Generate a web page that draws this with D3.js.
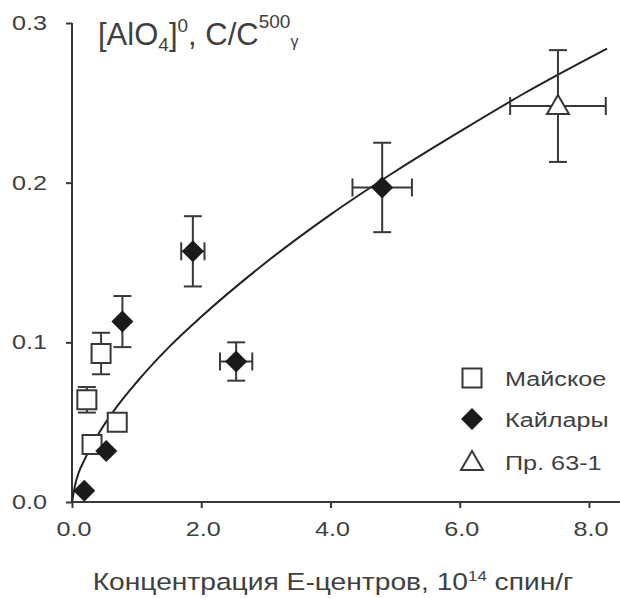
<!DOCTYPE html>
<html>
<head>
<meta charset="utf-8">
<script src="https://cdn.jsdelivr.net/npm/d3@7"></script>
<style>
  body { margin: 0; background: #fff; }
  text { font-family: "Liberation Sans", Arial, sans-serif; fill: #404040; }
</style>
</head>
<body>
<div id="chart"></div>
<script>
"use strict";
// Майское (open squares)
const maiskX = [0.45, 0.23, 0.31, 0.70];
const maiskY = [0.093, 0.064, 0.036, 0.050];
const maiskErrY = [0.013, 0.008, 0, 0];

// Кайлары (filled diamonds)
const kaylX = [0.19, 0.53, 0.78, 1.87, 2.54, 4.80];
const kaylY = [0.007, 0.032, 0.113, 0.157, 0.088, 0.197];
const kaylErrY = [0, 0, 0.016, 0.022, 0.012, 0.028];
const kaylErrX = [0, 0, 0, 0.18, 0.25, 0.46];

// Пр. 63-1 (open triangle)
const prX = [7.52];
const prY = [0.248];
const prErrY = [0.035];
const prErrX = [0.74];

// fitted curve
const curveX = [0, 0.05, 0.1, 0.2, 0.4, 0.7, 1.0, 1.5, 2, 3, 4, 5, 6, 7, 8.28];
const curveY = [0, 0.011, 0.018, 0.027, 0.042, 0.060, 0.075, 0.097, 0.116, 0.150, 0.180, 0.207, 0.232, 0.256, 0.284];

const xTicks = [0, 2, 4, 6, 8];
const yTicks = [0, 0.1, 0.2, 0.3];
const legendNames = ["Майское", "Кайлары", "Пр. 63-1"];

const width = 620, height = 598;
const ink = "#383838";
const stretch = 1.2;
const capW = 18;

const svg = d3.select("#chart").append("svg")
    .attr("width", width)
    .attr("height", height);

const x = d3.scaleLinear().domain([0, 8.48]).range([72, 620]);
const y = d3.scaleLinear().domain([0, 0.3]).range([502, 23]);

function sText(g, px, py, anchor, size, sx) {
    return g.append("text")
        .attr("transform", `translate(${px},${py}) scale(${sx || stretch},1)`)
        .attr("text-anchor", anchor)
        .style("font-size", size + "px");
}

// axes
const xAxis = svg.append("g")
    .attr("transform", `translate(0,${y(0)})`)
    .call(d3.axisBottom(x).tickValues(xTicks).tickSize(6).tickFormat(""));
const yAxis = svg.append("g")
    .attr("transform", `translate(${x(0)},0)`)
    .call(d3.axisLeft(y).tickValues(yTicks).tickSize(6).tickFormat(""));
[xAxis, yAxis].forEach(a => {
    a.selectAll("path").attr("stroke", ink).attr("stroke-width", 2);
    a.selectAll("line").attr("stroke", ink).attr("stroke-width", 2);
});
yAxis.select(".domain").attr("d", `M0,${y(0.3)}V${y(0) + 1}`);
xAxis.select(".domain").attr("d", `M${x(0) - 1},0H${width}`);

xTicks.forEach(t => sText(svg, x(t) + 2, 536, "middle", 21).text(d3.format(".1f")(t)));
yTicks.forEach(t => sText(svg, 47, y(t) + 7, "end", 21).text(d3.format(".1f")(t)));

// axis title
const xt = sText(svg, 333, 590, "middle", 23.5);
xt.append("tspan").text("Концентрация Е-центров, 10");
xt.append("tspan").attr("dy", -9).style("font-size", "14px").text("14");
xt.append("tspan").attr("dy", 9).text(" спин/г");

// panel label
const pl = sText(svg, 98, 45, "start", 31, 1);
pl.append("tspan").text("[AlO");
pl.append("tspan").attr("dy", 6).style("font-size", "19px").text("4");
pl.append("tspan").attr("dy", -6).text("]");
pl.append("tspan").attr("dy", -13).style("font-size", "19px").text("0");
pl.append("tspan").attr("dy", 13).text(", C/C");
pl.append("tspan").attr("dy", -17).style("font-size", "19px").text("500");
pl.append("tspan").attr("dy", 19).style("font-size", "16px").text("γ");

// curve
const line = d3.line()
    .x((d, i) => x(curveX[i]))
    .y(d => y(d))
    .curve(d3.curveMonotoneX);
svg.append("path")
    .attr("d", line(curveY))
    .attr("fill", "none")
    .attr("stroke", "#222")
    .attr("stroke-width", 2);

// error bars
function errBars(xs, ys, ex, ey) {
    const g = svg.append("g").attr("stroke", ink).attr("stroke-width", 2);
    xs.forEach((xv, i) => {
        const e1 = ey ? ey[i] : 0;
        const e2 = ex ? ex[i] : 0;
        if (e1 > 0) {
            g.append("line").attr("x1", x(xv)).attr("x2", x(xv))
                .attr("y1", y(ys[i] - e1)).attr("y2", y(ys[i] + e1));
            [ys[i] - e1, ys[i] + e1].forEach(v => {
                g.append("line").attr("x1", x(xv) - capW / 2).attr("x2", x(xv) + capW / 2)
                    .attr("y1", y(v)).attr("y2", y(v));
            });
        }
        if (e2 > 0) {
            g.append("line").attr("y1", y(ys[i])).attr("y2", y(ys[i]))
                .attr("x1", x(xv - e2)).attr("x2", x(xv + e2));
            [xv - e2, xv + e2].forEach(v => {
                g.append("line").attr("y1", y(ys[i]) - capW / 2).attr("y2", y(ys[i]) + capW / 2)
                    .attr("x1", x(v)).attr("x2", x(v));
            });
        }
    });
}
errBars(maiskX, maiskY, null, maiskErrY);
errBars(kaylX, kaylY, kaylErrX, kaylErrY);
errBars(prX, prY, prErrX, prErrY);

// marker shapes
const squarePath = "M-9.5,-9.5H9.5V9.5H-9.5Z";
const diamondPath = "M0,-11L11,0L0,11L-11,0Z";
const trianglePath = "M0,-11L11,8L-11,8Z";

function drawMarks(xs, ys, path, fill, strokeW) {
    svg.append("g").selectAll("path")
        .data(xs)
        .join("path")
        .attr("transform", (d, i) => `translate(${x(d)},${y(ys[i])})`)
        .attr("d", path)
        .attr("fill", fill)
        .attr("stroke", fill === "#fff" ? ink : "none")
        .attr("stroke-width", strokeW);
}
drawMarks(maiskX, maiskY, squarePath, "#fff", 2);
drawMarks(kaylX, kaylY, diamondPath, "#1a1a1a", 0);
drawMarks(prX, prY, trianglePath, "#fff", 2);

// legend
const legendY = [378, 419, 462];
const legendPaths = [squarePath, diamondPath, trianglePath];
legendNames.forEach((name, i) => {
    const open = i !== 1;
    svg.append("path")
        .attr("transform", `translate(472,${legendY[i]})`)
        .attr("d", legendPaths[i])
        .attr("fill", open ? "#fff" : "#1a1a1a")
        .attr("stroke", open ? ink : "none")
        .attr("stroke-width", 2);
    sText(svg, 505, legendY[i] + 8, "start", 21).text(name);
});
</script>
</body>
</html>
